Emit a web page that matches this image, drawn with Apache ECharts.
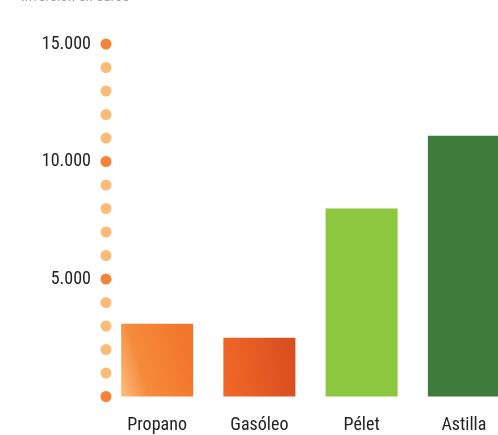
<!DOCTYPE html>
<html>
<head>
<meta charset="utf-8">
<script src="https://cdn.jsdelivr.net/npm/echarts@6/dist/echarts.min.js"></script>
<style>
  html, body { margin: 0; padding: 0; background: #fff; overflow: hidden; }
  /* the plot runs a little past the right edge of the page, cutting the last bar */
  #chart { width: 515px; height: 435px; }
</style>
</head>
<body>
<div id="chart"></div>
<script>
// Investment per heating fuel (euros)
const categories = ['Propano', 'Gasóleo', 'Pélet', 'Astilla'];
const investment = [3100, 2500, 8000, 11100];
// Dotted scale: one dot every 1.000 €, stronger dots on labelled ticks
const dotValues = [0, 1000, 2000, 3000, 4000, 5000, 6000, 7000, 8000, 9000, 10000, 11000, 12000, 13000, 14000, 15000];
const labelledTicks = [0, 5000, 10000, 15000];

const FONT = '"Roboto Condensed", "Liberation Sans Narrow", Roboto, sans-serif';

const barColors = [
  new echarts.graphic.LinearGradient(0, 1, 1, 0.7, [
    { offset: 0, color: '#fdbf7c' },
    { offset: 0.35, color: '#f58b3d' },
    { offset: 1, color: '#f3772a' }
  ]),
  new echarts.graphic.LinearGradient(0, 0.6, 1, 0.4, [
    { offset: 0, color: '#f26727' },
    { offset: 1, color: '#d84e1f' }
  ]),
  '#8dc63f',
  '#3d7c3a'
];

const chart = echarts.init(document.getElementById('chart'));
chart.setOption({
  animation: false,
  title: {
    text: 'Inversión en euros',
    left: 16,
    top: -15,
    textStyle: { color: '#a0a0a0', fontSize: 15, fontWeight: 'normal', fontFamily: FONT }
  },
  grid: { left: 106, top: 44, right: 0, bottom: 38.5, containLabel: false },
  xAxis: [
    {
      type: 'category',
      data: categories,
      axisLine: { show: false },
      axisTick: { show: false },
      axisLabel: { color: '#222', fontSize: 18, fontFamily: FONT, margin: 20 }
    },
    { type: 'value', min: 0, max: 1, show: false }
  ],
  yAxis: {
    type: 'value',
    min: 0,
    max: 15000,
    interval: 5000,
    splitLine: { show: false },
    axisLine: { show: false },
    axisTick: { show: false },
    axisLabel: {
      color: '#222',
      fontSize: 18,
      fontFamily: FONT,
      margin: 15,
      formatter: v => v === 0 ? '' : v.toLocaleString('de-DE')
    }
  },
  series: [
    {
      type: 'bar',
      barWidth: 72,
      data: investment.map((v, i) => ({ value: v, itemStyle: { color: barColors[i] } }))
    },
    {
      type: 'scatter',
      xAxisIndex: 1,
      symbolSize: 11,
      data: dotValues.map(v => ({
        value: [0, v],
        itemStyle: { opacity: 1, color: labelledTicks.includes(v) ? '#f5843a' : '#fcbc78' }
      }))
    }
  ]
});
</script>
</body>
</html>
